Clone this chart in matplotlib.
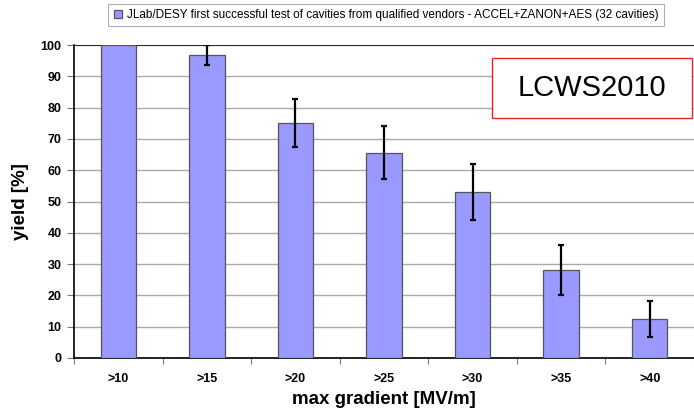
import matplotlib.pyplot as plt
from matplotlib.patches import Rectangle

plt.rcParams['font.family'] = ['Liberation Sans', 'DejaVu Sans']

categories = ['>10', '>15', '>20', '>25', '>30', '>35', '>40']
yield_pct = [100.0, 96.9, 75.0, 65.6, 53.1, 28.1, 12.5]
yield_err = [0.0, 3.2, 7.7, 8.5, 8.9, 8.0, 5.8]

fig = plt.figure(figsize=(6.94, 4.17), dpi=100)
ax = fig.add_axes([74 / 694, 59 / 417, 620 / 694, 313 / 417])

x = range(len(categories))
bars = ax.bar(x, yield_pct, width=0.4, color='#9999ff', edgecolor='#555555',
              linewidth=0.9, zorder=3,
              label='JLab/DESY first successful test of cavities from qualified vendors - ACCEL+ZANON+AES (32 cavities)')
err_x = [i for i, e in zip(x, yield_err) if e > 0]
err_y = [v for v, e in zip(yield_pct, yield_err) if e > 0]
err_e = [e for e in yield_err if e > 0]
ax.errorbar(err_x, err_y, yerr=err_e, fmt='none', ecolor='black',
            elinewidth=1.6, capsize=2.5, capthick=1.6, zorder=4, clip_on=True)

ax.set_ylim(0, 100)
ax.set_xlim(-0.5, 6.466)
ax.set_yticks(range(0, 101, 10))
ax.set_xticks(list(x))
ax.set_xticklabels(categories)
ax.set_xticks([i + 0.5 for i in range(-1, 7)], minor=True)
ax.tick_params(axis='x', which='major', length=0, pad=11, labelsize=9)
ax.tick_params(axis='x', which='minor', length=4, width=0.8, color='#777777', direction='out')
ax.tick_params(axis='y', length=5, width=0.8, color='#777777', direction='out', labelsize=9, pad=4)
for lab in ax.get_xticklabels() + ax.get_yticklabels():
    lab.set_fontweight('bold')

ax.yaxis.grid(True, color='#aaaaaa', linewidth=1.0, zorder=0)
ax.axhline(100, color='#222222', linewidth=1.4, zorder=2)
ax.spines['right'].set_visible(False)
ax.spines['top'].set_visible(False)
ax.spines['left'].set_linewidth(1.2)
ax.spines['bottom'].set_linewidth(1.2)

ax.set_ylabel('yield [%]', fontsize=13.5, fontweight='bold', labelpad=8)
ax.set_xlabel('max gradient [MV/m]', fontsize=13.5, fontweight='bold', labelpad=4)

leg = fig.legend(handles=[bars], loc='center', bbox_to_anchor=(386 / 694, 1 - 15 / 417),
                 fontsize=8.5, frameon=True, fancybox=False, handlelength=0.7,
                 handleheight=0.7, handletextpad=0.4, borderpad=0.45,
                 borderaxespad=0)
leg.get_frame().set_edgecolor('#999999')
leg.get_frame().set_linewidth(0.8)

fig.patches.append(Rectangle((492 / 694, 1 - 118 / 417), 200 / 694, 60 / 417,
                             transform=fig.transFigure, facecolor='white',
                             edgecolor='#ee2222', linewidth=1.0, zorder=5))
fig.text(592 / 694, 1 - 88 / 417, 'LCWS2010', fontsize=21, ha='center',
         va='center', zorder=6)

fig.savefig('out.png', dpi=100)
